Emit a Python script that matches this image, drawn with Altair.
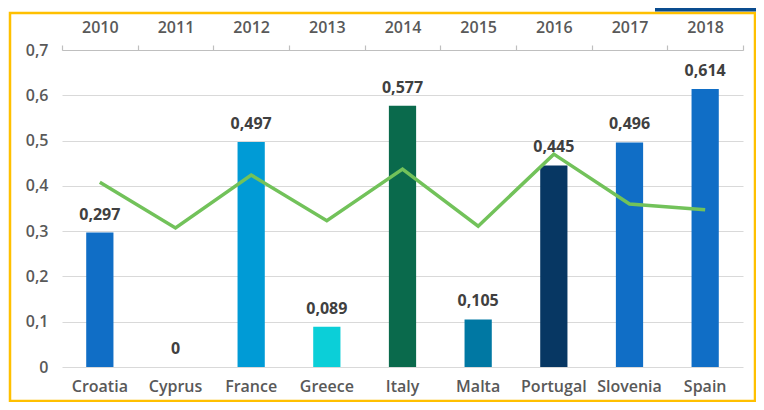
import altair as alt
import pandas as pd

countries = ["Croatia", "Cyprus", "France", "Greece", "Italy", "Malta", "Portugal", "Slovenia", "Spain"]
years = ["2010", "2011", "2012", "2013", "2014", "2015", "2016", "2017", "2018"]
bar_values = [0.297, 0, 0.497, 0.089, 0.577, 0.105, 0.445, 0.496, 0.614]
line_values = [0.408, 0.307, 0.424, 0.323, 0.437, 0.311, 0.470, 0.360, 0.347]
bar_colors = ["#106EC6", "#106EC6", "#009BD6", "#0BCFD8", "#0A6A4C", "#0078A3", "#073763", "#106EC6", "#106EC6"]

df = pd.DataFrame({
    "Country": countries,
    "Year": years,
    "value": bar_values,
    "line": line_values,
    "color": bar_colors,
})
df["label"] = [("%.3f" % v).replace(".", ",") if v != 0 else "0" for v in bar_values]

FONT = "Open Sans"
GRAY = "#595959"

yscale = alt.Scale(domain=[0, 0.7], nice=False, zero=True)
xscale = alt.Scale(paddingInner=0, paddingOuter=0)

base = alt.Chart(df)

bars = base.mark_bar(width=alt.RelativeBandSize(0.36)).encode(
    x=alt.X("Country:N", sort=countries, scale=xscale, title=None,
            axis=alt.Axis(orient="bottom", domain=False, ticks=False, labelPadding=11,
                          labelAngle=0, labelFont=FONT, labelFontSize=16, labelFontWeight=600,
                          labelColor=GRAY)),
    y=alt.Y("value:Q", scale=yscale, title=None,
            axis=alt.Axis(values=[0, 0.1, 0.2, 0.3, 0.4, 0.5, 0.6, 0.7], domain=False, ticks=False,
                          grid=True, gridColor="#D9D9D9", gridWidth=1.2,
                          labelExpr="replace(format(datum.value, '.1~f'), '.', ',')",
                          labelPadding=14, labelFont=FONT, labelFontSize=16, labelFontWeight=600,
                          labelColor=GRAY)),
    color=alt.Color("color:N", scale=None),
)

line = base.mark_line(color="#72C25A", strokeWidth=3.5).encode(
    x=alt.X("Year:N", sort=years, scale=xscale, title=None,
            axis=alt.Axis(orient="top", domain=True, domainColor="#BFBFBF", domainWidth=1.2,
                          ticks=True, tickColor="#BFBFBF", tickSize=5, tickWidth=1.2, tickBand="extent",
                          labelPadding=10, labelAngle=0, labelFont=FONT, labelFontSize=16,
                          labelFontWeight=600, labelColor=GRAY)),
    y=alt.Y("line:Q", scale=yscale),
)

labels = base.mark_text(baseline="bottom", dy=-10, font=FONT, fontSize=16,
                        fontWeight="bold", color="#404040").encode(
    x=alt.X("Country:N", sort=countries, scale=xscale, axis=None),
    y=alt.Y("value:Q", scale=yscale),
    text="label:N",
)

frame_df = pd.DataFrame({"k": [1]})
frame = alt.Chart(frame_df).mark_rect(fill=None, stroke="#FFC000", strokeWidth=2.5).encode(
    x=alt.value(-52), x2=alt.value(693), y=alt.value(-37), y2=alt.value(351)
)
topbar = alt.Chart(frame_df).mark_rect(fill="#0A4C8F").encode(
    x=alt.value(593), x2=alt.value(694), y=alt.value(-42), y2=alt.value(-38.5)
)

chart = alt.layer(bars, line, labels, frame, topbar).resolve_scale(x="independent").properties(
    width=681, height=317,
    autosize=alt.AutoSizeParams(type="none"),
    padding={"left": 54, "top": 42, "right": 13, "bottom": 35},
    background="white",
).configure_view(stroke=None)

chart.save("out.html", embed_options={"renderer": "svg", "actions": False})
